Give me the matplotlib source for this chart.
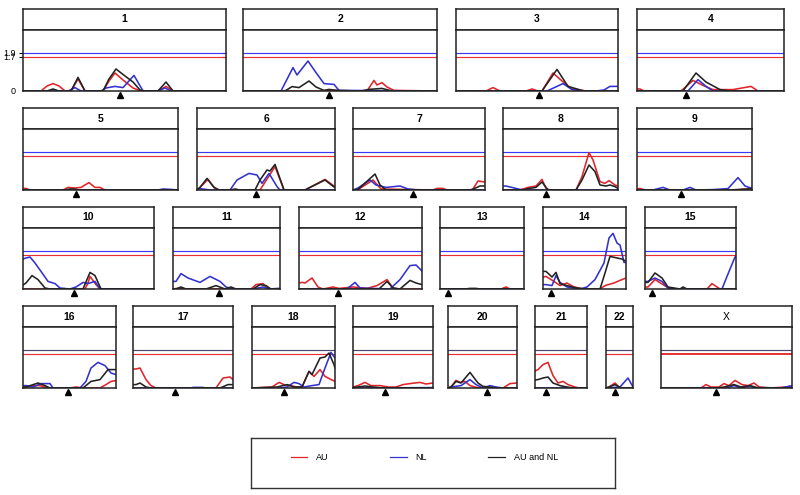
import matplotlib
matplotlib.use("Agg")
import matplotlib.pyplot as plt
from matplotlib.lines import Line2D

plt.rcParams['font.family'] = ['Liberation Sans', 'DejaVu Sans']

# chromosomes, map length and centromere position (cM)
chroms = ["1", "2", "3", "4", "5", "6", "7", "8", "9", "10", "11", "12",
          "13", "14", "15", "16", "17", "18", "19", "20", "21", "22", "X"]
lengths = [203, 194, 162, 147, 155, 138, 132, 115, 115, 131, 107, 123,
           84, 83, 91, 93, 100, 83, 80, 69, 52, 27, 131]
centromeres = [97, 86, 83, 49, 53, 59, 60, 43, 44, 51, 46, 39,
               8, 8, 7, 45, 42, 32, 32, 39, 11, 9, 55]

thr_au = 1.7
thr_nl = 1.9

# LOD curves: AU
au_x = [
    [0, 18, 24, 30, 36, 42, 48, 55, 62, 80, 86, 92, 100, 110, 118, 135, 143, 150, 203],
    [0, 80, 86, 93, 100, 124, 131, 134, 139, 144, 151, 194],
    [0, 30, 37, 44, 70, 76, 82, 86, 97, 109, 116, 124, 130, 162],
    [0, 3, 7, 44, 56, 66, 76, 96, 114, 121, 147],
    [0, 3, 7, 40, 45, 52, 58, 66, 72, 77, 82, 155],
    [0, 3, 11, 17, 22, 63, 78, 87, 108, 113, 128, 137, 138],
    [0, 5, 20, 28, 80, 84, 90, 94, 117, 120, 125, 132],
    [0, 17, 25, 33, 39, 43, 47, 73, 79, 86, 90, 97, 102, 106, 112, 115],
    [0, 3, 8, 98, 110, 115],
    [0, 62, 65, 67, 73, 77, 131],
    [0, 7, 11, 78, 83, 90, 93, 97, 107],
    [0, 3, 6, 13, 19, 24, 34, 40, 54, 68, 78, 88, 94, 100, 123],
    [0, 61, 66, 70, 84],
    [0, 3, 11, 17, 24, 31, 41, 57, 62, 71, 77, 83],
    [0, 3, 10, 18, 25, 62, 67, 72, 75, 91],
    [0, 3, 10, 17, 25, 47, 53, 60, 77, 83, 88, 93],
    [0, 3, 7, 13, 18, 23, 83, 90, 97, 100],
    [0, 20, 27, 32, 38, 45, 50, 57, 62, 68, 73, 78, 83],
    [0, 5, 12, 18, 27, 35, 43, 50, 57, 67, 73, 80],
    [0, 3, 8, 12, 17, 22, 27, 32, 55, 62, 69],
    [0, 3, 8, 13, 18, 23, 28, 33, 40, 44, 52],
    [0, 3, 9, 13, 15, 27],
    [0, 40, 45, 50, 58, 63, 68, 74, 81, 87, 93, 98, 110, 125, 131],
]
au_y = [
    [0, 0, 0.25, 0.37, 0.25, 0, 0, 0.6, 0, 0, 0.5, 0.9, 0.55, 0.15, 0, 0, 0.23, 0, 0],
    [0, 0, 0.05, 0.04, 0, 0, 0.53, 0.3, 0.42, 0.2, 0.03, 0],
    [0, 0, 0.17, 0, 0, 0.1, 0, 0, 0.9, 0.37, 0.1, 0.05, 0, 0],
    [0.1, 0.1, 0, 0, 0.53, 0.28, 0.07, 0.07, 0.23, 0, 0],
    [0.08, 0.08, 0, 0, 0.13, 0.1, 0.13, 0.37, 0.13, 0.13, 0, 0],
    [0, 0.13, 0.53, 0.13, 0, 0, 1.17, 0, 0, 0.13, 0.53, 0.2, 0.2],
    [0, 0.02, 0.5, 0.05, 0, 0.08, 0.08, 0, 0, 0.05, 0.45, 0.4],
    [0, 0, 0.13, 0.2, 0.53, 0.08, 0, 0, 0.67, 1.87, 1.5, 0.42, 0.33, 0.47, 0.25, 0.2],
    [0.05, 0.08, 0, 0, 0.05, 0.13],
    [0, 0, 0.3, 0.63, 0.22, 0, 0],
    [0, 0.05, 0, 0, 0.22, 0.27, 0.1, 0, 0],
    [0.3, 0.33, 0.3, 0.55, 0.1, 0, 0.1, 0.03, 0.1, 0.03, 0.17, 0.47, 0.05, 0, 0],
    [0, 0, 0.1, 0, 0],
    [0.6, 0.63, 0.38, 0.17, 0.3, 0.1, 0, 0, 0.17, 0.3, 0.43, 0.55],
    [0.1, 0.1, 0.47, 0.22, 0, 0, 0.27, 0.1, 0, 0],
    [0.05, 0.05, 0.12, 0.12, 0, 0, 0.05, 0, 0, 0.17, 0.33, 0.37],
    [0.95, 0.95, 1.0, 0.42, 0.12, 0, 0, 0.5, 0.55, 0.42],
    [0, 0.05, 0.28, 0.17, 0.12, 0.05, 0.05, 0.83, 0.58, 0.92, 0.58, 0.45, 0.33],
    [0.05, 0.12, 0.28, 0.12, 0.12, 0.05, 0.05, 0.17, 0.22, 0.28, 0.2, 0.25],
    [0, 0.05, 0.38, 0.28, 0.33, 0.12, 0.05, 0, 0, 0.22, 0.25],
    [0.85, 0.92, 1.17, 1.28, 0.62, 0.25, 0.33, 0.17, 0.05, 0, 0],
    [0, 0.05, 0.25, 0.05, 0, 0],
    [0, 0, 0.17, 0.05, 0.05, 0.22, 0.12, 0.38, 0.17, 0.12, 0.25, 0.05, 0, 0.05, 0.08],
]

# LOD curves: NL
nl_x = [
    [0, 45, 52, 58, 78, 83, 92, 100, 111, 120, 135, 142, 148, 203],
    [0, 38, 50, 54, 65, 73, 81, 91, 96, 194],
    [0, 91, 107, 116, 124, 140, 148, 154, 162],
    [0, 51, 61, 69, 76, 147],
    [0, 135, 140, 148, 155],
    [0, 3, 13, 33, 40, 52, 60, 65, 72, 80, 83, 138],
    [0, 5, 17, 23, 33, 47, 55, 65, 132],
    [0, 3, 17, 25, 35, 115],
    [0, 16, 26, 33, 46, 53, 59, 76, 91, 101, 108, 115],
    [0, 3, 7, 12, 18, 25, 32, 37, 47, 53, 60, 65, 72, 77, 131],
    [0, 3, 8, 15, 27, 37, 47, 53, 60, 80, 90, 97, 105, 107],
    [0, 48, 56, 61, 91, 101, 111, 117, 123],
    [0, 84],
    [0, 3, 9, 13, 17, 24, 37, 44, 52, 61, 66, 70, 74, 77, 81, 83],
    [0, 3, 10, 17, 23, 32, 77, 82, 90, 91],
    [0, 3, 10, 18, 27, 30, 57, 63, 68, 75, 82, 88, 93],
    [0, 58, 60, 70, 72, 100],
    [0, 28, 35, 42, 47, 52, 60, 67, 73, 79, 83],
    [0, 80],
    [0, 3, 13, 22, 28, 35, 42, 48, 55, 69],
    [0, 52],
    [0, 14, 22, 27],
    [0, 65, 73, 80, 89, 95, 120, 129, 131],
]
nl_y = [
    [0, 0, 0.17, 0, 0, 0.15, 0.23, 0.17, 0.78, 0, 0, 0.15, 0, 0],
    [0, 0, 1.17, 0.8, 1.5, 0.92, 0.37, 0.33, 0.03, 0],
    [0, 0, 0.37, 0.07, 0, 0, 0.05, 0.23, 0.23],
    [0, 0, 0.57, 0.23, 0, 0],
    [0, 0, 0.05, 0.03, 0],
    [0.05, 0.07, 0, 0, 0.5, 0.83, 0.75, 0.33, 0.83, 0.17, 0, 0],
    [0, 0.1, 0.5, 0.25, 0.13, 0.2, 0.05, 0, 0],
    [0.2, 0.2, 0.03, 0, 0, 0],
    [0, 0, 0.13, 0, 0, 0.13, 0, 0.02, 0.07, 0.62, 0.2, 0.08],
    [1.5, 1.55, 1.6, 1.3, 0.88, 0.38, 0.27, 0.05, 0, 0.1, 0.33, 0.27, 0.38, 0, 0],
    [0.38, 0.38, 0.77, 0.55, 0.33, 0.63, 0.38, 0.1, 0, 0, 0.1, 0, 0.03, 0.03],
    [0, 0, 0.33, 0.05, 0, 0.47, 1.17, 1.2, 0.9],
    [0, 0],
    [0.22, 0.22, 0.17, 0.67, 0.33, 0.1, 0, 0.1, 0.47, 1.3, 2.55, 2.78, 2.3, 2.2, 1.33, 1.33],
    [0.38, 0.38, 0.55, 0.38, 0.05, 0, 0, 0.63, 1.6, 1.6],
    [0.12, 0.12, 0.05, 0.22, 0.22, 0, 0, 0.33, 1.0, 1.28, 1.12, 0.75, 0.67],
    [0, 0, 0.03, 0.03, 0, 0],
    [0, 0, 0.05, 0.28, 0.22, 0.05, 0.12, 0.17, 1.0, 1.78, 1.5],
    [0, 0.02],
    [0, 0.05, 0.12, 0.42, 0.17, 0, 0.12, 0.05, 0, 0],
    [0, 0],
    [0, 0.05, 0.5, 0.05],
    [0, 0, 0.12, 0.02, 0.1, 0, 0, 0.1, 0.1],
]

# LOD curves: AU and NL combined
both_x = [
    [0, 24, 30, 36, 48, 55, 62, 80, 86, 93, 102, 110, 117, 122, 135, 143, 150, 203],
    [0, 40, 43, 49, 56, 66, 73, 81, 86, 93, 118, 126, 139, 149, 194],
    [0, 86, 101, 112, 121, 128, 162],
    [0, 46, 59, 69, 83, 93, 147],
    [0, 42, 47, 52, 56, 155],
    [0, 3, 10, 17, 22, 33, 38, 43, 58, 63, 70, 73, 78, 87, 108, 113, 128, 137, 138],
    [0, 5, 22, 27, 33, 118, 127, 132],
    [0, 20, 25, 33, 39, 45, 73, 79, 86, 92, 97, 103, 107, 112, 115],
    [0, 92, 115],
    [0, 3, 9, 15, 22, 27, 60, 67, 72, 78, 131],
    [0, 3, 8, 13, 33, 43, 52, 58, 63, 80, 87, 93, 98, 107],
    [0, 80, 88, 94, 101, 111, 117, 123],
    [0, 25, 30, 36, 40, 84],
    [0, 3, 9, 13, 17, 24, 34, 41, 57, 62, 67, 74, 79, 83],
    [0, 3, 10, 17, 23, 35, 38, 42, 91],
    [0, 3, 15, 22, 27, 60, 68, 77, 85, 93],
    [0, 3, 7, 13, 18, 87, 95, 100],
    [0, 25, 35, 42, 50, 57, 60, 68, 73, 77, 82, 83],
    [0, 5, 12, 20, 30, 80],
    [0, 3, 8, 13, 22, 30, 35, 42, 47, 69],
    [0, 3, 8, 13, 18, 25, 32, 38, 52],
    [0, 3, 9, 15, 27],
    [0, 55, 63, 73, 80, 89, 96, 131],
]
both_y = [
    [0, 0, 0.1, 0, 0, 0.68, 0, 0, 0.6, 1.1, 0.75, 0.45, 0.05, 0, 0, 0.45, 0, 0],
    [0, 0, 0.03, 0.22, 0.17, 0.5, 0.2, 0.03, 0.08, 0.03, 0, 0.08, 0.13, 0, 0],
    [0, 0, 1.08, 0.23, 0.1, 0, 0],
    [0, 0, 0.9, 0.45, 0.07, 0, 0],
    [0, 0, 0.05, 0.05, 0, 0],
    [0, 0.13, 0.58, 0.13, 0, 0, 0.05, 0, 0, 0.5, 1.0, 0.95, 1.28, 0, 0, 0.13, 0.5, 0.15, 0.15],
    [0, 0.03, 0.8, 0.25, 0, 0, 0.2, 0.2],
    [0, 0, 0.07, 0.13, 0.4, 0, 0, 0.5, 1.25, 0.92, 0.25, 0.2, 0.25, 0.17, 0.08],
    [0, 0, 0.06],
    [0.2, 0.3, 0.67, 0.47, 0.05, 0, 0, 0.83, 0.67, 0, 0],
    [0, 0, 0.1, 0, 0, 0.17, 0, 0.1, 0, 0, 0.22, 0.17, 0, 0],
    [0, 0, 0.38, 0.05, 0, 0.43, 0.3, 0.22],
    [0, 0, 0.03, 0.03, 0, 0],
    [0.88, 0.88, 0.6, 0.83, 0.27, 0.17, 0.05, 0, 0, 0.8, 1.63, 1.55, 1.5, 1.38],
    [0.33, 0.33, 0.8, 0.55, 0.1, 0, 0.1, 0, 0],
    [0.05, 0.05, 0.25, 0.12, 0, 0, 0.33, 0.42, 0.92, 0.92],
    [0.17, 0.17, 0.25, 0.05, 0, 0, 0.17, 0.17],
    [0, 0.05, 0.17, 0.05, 0.05, 0.83, 0.67, 1.5, 1.55, 1.75, 1.17, 1.0],
    [0.02, 0.05, 0.1, 0.05, 0, 0],
    [0, 0.05, 0.33, 0.25, 0.78, 0.25, 0.08, 0.05, 0, 0],
    [0.4, 0.42, 0.5, 0.55, 0.25, 0.12, 0.05, 0, 0],
    [0, 0.05, 0.17, 0, 0],
    [0, 0, 0.05, 0.17, 0.05, 0.12, 0.02, 0],
]

RED = "#e0242a"
BLUE = "#3232d2"
BLACK = "#222222"

W, H = 800, 495
fig = plt.figure(figsize=(8, 4.95), dpi=100)

# pixel layout: (box top, header bottom, plot bottom) and panel left edges per row
rows = [(9, 30, 91), (108, 129, 190), (207, 228, 289), (306, 327, 388)]
row_lefts = [[23, 243, 456, 637],
             [23, 197, 353, 503, 637],
             [23, 173, 299, 440, 543, 645],
             [23, 133, 252, 353, 448, 535, 606, 661]]

def px_axes(x0, y0, x1, y1):
    return fig.add_axes([x0 / W, 1 - y1 / H, (x1 - x0) / W, (y1 - y0) / H])

i = 0
for r, (top, mid, bot) in enumerate(rows):
    for left in row_lefts[r]:
        L = lengths[i]
        right = left + L
        hx = px_axes(left, top, right, mid)
        hx.set_xticks([])
        hx.set_yticks([])
        for s in hx.spines.values():
            s.set_linewidth(1.1)
            s.set_color("#222222")
        hx.text(0.5, 0.5, chroms[i], ha="center", va="center", fontsize=7.5,
                fontweight="normal" if chroms[i] == "X" else "bold",
                transform=hx.transAxes)

        ax = px_axes(left, mid, right, bot)
        ax.set_xlim(0, L)
        ax.set_ylim(0, 3.05)
        for s in ax.spines.values():
            s.set_linewidth(1.1)
            s.set_color("#222222")
        nl_col = "#3a3aff" if r < 3 else "#4a4a70"
        ax.axhline(thr_nl, color=nl_col, lw=0.85)
        ax.axhline(thr_au, color="#e83030", lw=0.85 if chroms[i] != "X" else 1.4)
        ax.plot(au_x[i], au_y[i], color=RED, lw=1.15)
        ax.plot(nl_x[i], nl_y[i], color=BLUE, lw=1.15)
        ax.plot(both_x[i], both_y[i], color=BLACK, lw=1.15)
        ax.plot([centromeres[i]], [-0.22], marker="^", color="black",
                markersize=4.5, clip_on=False, linestyle="none")
        ax.set_xticks([])
        if i == 0:
            ax.set_yticks([0, thr_au, thr_nl])
            ax.set_yticklabels(["0", "1.7", "1.9"], fontsize=6.5)
            ax.tick_params(axis="y", length=3, width=0.8, pad=2)
            ax.get_yticklines()[0].set_visible(False)
            sec = ax.secondary_yaxis("right")
            sec.set_yticks([thr_au, thr_nl])
            sec.set_yticklabels([])
            sec.tick_params(direction="in", length=3, width=0.8)
            sec.spines["right"].set_visible(False)
        else:
            ax.set_yticks([])
        i += 1

# legend box
lg = px_axes(251, 438, 615, 488)
lg.set_xticks([])
lg.set_yticks([])
for s in lg.spines.values():
    s.set_linewidth(1.0)
    s.set_color("#333333")
handles = [Line2D([], [], color=RED, lw=0.9),
           Line2D([], [], color=BLUE, lw=0.9),
           Line2D([], [], color=BLACK, lw=0.9)]
lg.legend(handles, ["AU", "NL", "AU and NL"], ncol=3, loc="upper left",
          bbox_to_anchor=(0.10, 0.77), frameon=False, fontsize=6.5,
          handlelength=1.8, handletextpad=1.0, columnspacing=6.8,
          borderaxespad=0)

fig.savefig("out.png", dpi=100)
